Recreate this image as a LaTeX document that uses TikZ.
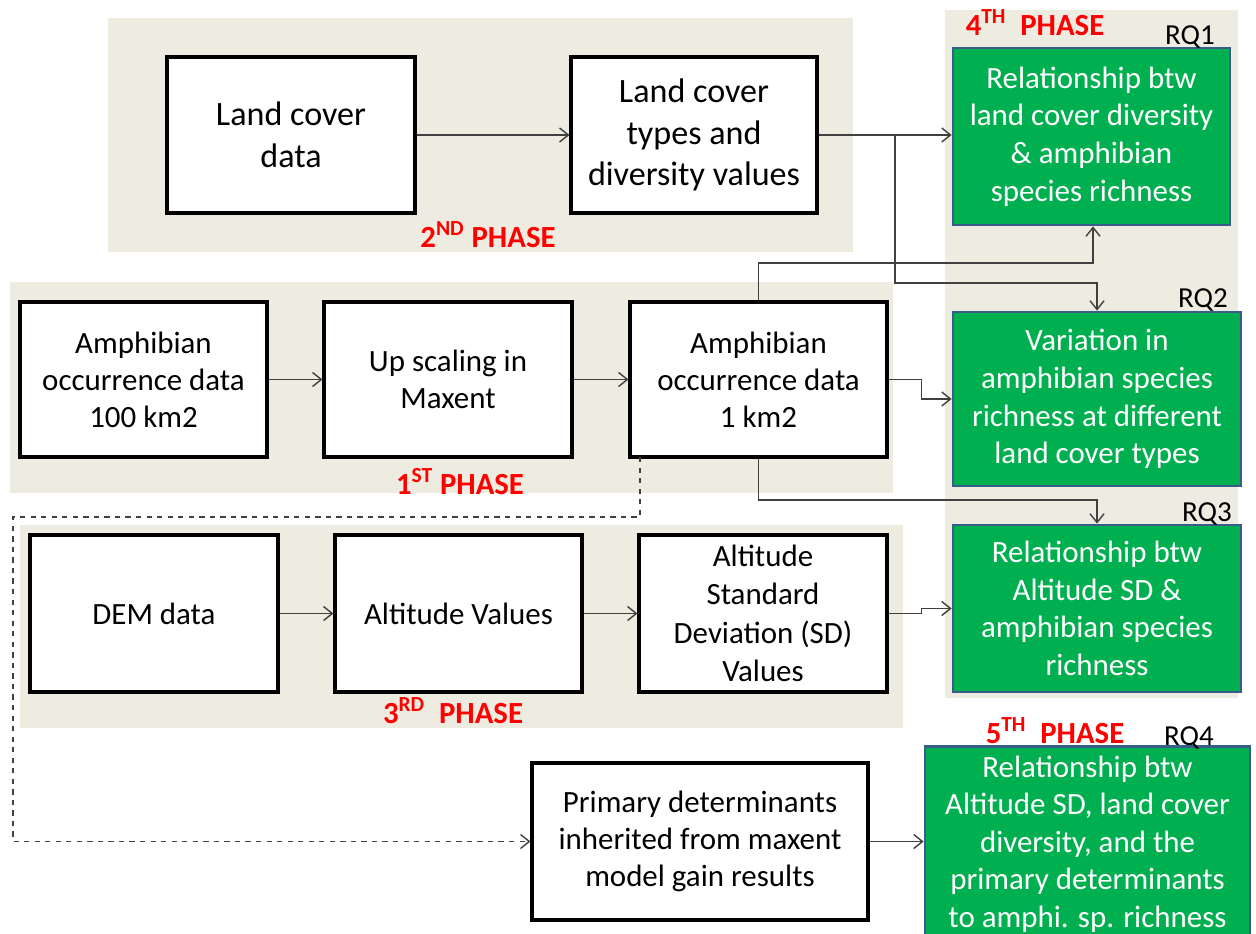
\documentclass[tikz,border=0pt]{standalone}
\usepackage{fontspec}
\setmainfont{Carlito}
\usepackage{xcolor}
\usepackage{tikz}
\usetikzlibrary{arrows.meta}
\definecolor{phasebg}{HTML}{EEECE1}
\definecolor{rqgreen}{HTML}{00B050}
\definecolor{rqborder}{HTML}{385D8A}
\definecolor{phasered}{HTML}{FF0000}
\newcommand{\boxtxt}{\fontsize{17.6}{21}\selectfont}
\newcommand{\bigtxt}{\fontsize{19.4}{23.6}\selectfont}
\newcommand{\rqtxt}{\fontsize{17.6}{21.4}\selectfont}
\newcommand{\phasetxt}{\fontsize{17.5}{21}\selectfont\bfseries}
\tikzset{
 databox/.style={draw=black, line width=1.8pt, fill=white, inner sep=0pt, align=center, font=\boxtxt},
 rqbox/.style={draw=rqborder, line width=1.6pt, fill=rqgreen, text=white, inner sep=0pt, align=center, font=\rqtxt},
 phaselabel/.style={text=phasered, inner sep=0pt, anchor=base, font=\phasetxt},
 rqlabel/.style={inner sep=0pt, anchor=base, font=\fontsize{16.5}{20}\selectfont},
 link/.style={draw=black!75, line width=0.8pt, ->, >={Straight Barb[length=5pt,width=8pt]}}
}

\begin{document}
\begin{tikzpicture}  [x=0.02cm, y=-0.02cm]
\useasboundingbox (0,0) rectangle (1256,933);
\fill[white] (0,0) rectangle (1256,933);
\fill[phasebg] (108,18) rectangle (853,252);
\fill[phasebg] (10,282) rectangle (893,493);
\fill[phasebg] (20,525) rectangle (903,728);
\fill[phasebg] (945,10) rectangle (1238,698);

\node[databox, font=\bigtxt, minimum width=4.96cm, minimum height=3.12cm] (lcdata) at (291,135) {Land cover\\data};
\node[databox, font=\bigtxt, minimum width=4.92cm, minimum height=3.12cm] (lctypes) at (694,135) {Land cover\\types and\\diversity values};
\node[databox, minimum width=4.94cm, minimum height=3.10cm] (amphhund) at (143.5,379.5) {Amphibian\\occurrence data\\100 km2};
\node[databox, minimum width=4.96cm, minimum height=3.10cm] (upscale) at (448,379.5) {Up scaling in\\Maxent};
\node[databox, minimum width=5.14cm, minimum height=3.10cm] (amphone) at (758.5,379.5) {Amphibian\\occurrence data\\1 km2};
\node[databox, minimum width=4.96cm, minimum height=3.14cm] (dem) at (154,613.5) {DEM data};
\node[databox, minimum width=4.94cm, minimum height=3.14cm] (altval) at (458.5,613.5) {Altitude Values};
\node[databox, font=\fontsize{17.6}{21.8}\selectfont, minimum width=4.96cm, minimum height=3.14cm] (altsd) at (763,613.5) {Altitude\\Standard\\Deviation (SD)\\Values};
\node[databox, minimum width=6.72cm, minimum height=3.14cm] (primary) at (700,841.5) {Primary determinants\\inherited from maxent\\model gain results};

\node[rqbox, minimum width=5.54cm, minimum height=3.54cm] (rqone) at (1091.5,136.5) {Relationship btw\\land cover diversity\\\& amphibian\\species richness};
\node[rqbox, minimum width=5.76cm, minimum height=3.48cm] (rqtwo) at (1097,399) {Variation in\\amphibian species\\richness at different\\land cover types};
\node[rqbox, minimum width=5.76cm, minimum height=3.34cm] (rqthree) at (1097,608.5) {Relationship btw\\Altitude SD \&\\amphibian species\\richness};
\node[rqbox, minimum width=6.5cm, minimum height=3.9cm] (rqfour) at (1087.5,844) {Relationship btw\\Altitude SD, land cover\\diversity, and the\\primary determinants\\to amphi. sp. richness};

\node[phaselabel] (phtwo) at (488,247) {2\textsuperscript{ND} PHASE};
\node[phaselabel] (phone) at (460,494) {1\textsuperscript{ST} PHASE};
\node[phaselabel] (phthree) at (453,723) {3\textsuperscript{RD}\ \ PHASE};
\node[phaselabel] (phfour) at (1035,35) {4\textsuperscript{TH}\ \ PHASE};
\node[phaselabel] (phfive) at (1055,743) {5\textsuperscript{TH}\ \ PHASE};
\node[rqlabel] (lblone) at (1190,44) {RQ1};
\node[rqlabel] (lbltwo) at (1203,307) {RQ2};
\node[rqlabel] (lblthree) at (1207,521) {RQ3};
\node[rqlabel] (lblfour) at (1189,745) {RQ4};

\coordinate (split) at (895,135);
\coordinate (kinkone) at (1093,263);
\coordinate (kinktwo) at (1097,283);
\coordinate (kinkthree) at (1097,500);
\coordinate (dashtop) at (640,457);
\coordinate (dashcorner) at (13,517);

\draw[link] (lcdata.east) -- (lctypes.west);
\draw[link] (lctypes.east) -- (lctypes.east -| rqone.west);
\draw[link] (split) |- (kinktwo) -- (kinktwo |- rqtwo.north);
\draw[link] (amphhund.east) -- (upscale.west);
\draw[link] (upscale.east) -- (amphone.west);
\draw[link] (amphone.north) |- (kinkone) -- (kinkone |- rqone.south);
\draw[link] (amphone.east) -- ++(33,0) |- (rqtwo.west);
\draw[link] (amphone.south) |- (kinkthree) -- (kinkthree |- rqthree.north);
\draw[link] (dem.east) -- (altval.west);
\draw[link] (altval.east) -- (altsd.west);
\draw[link] (altsd.east) -- ++(33,0) |- (rqthree.west);
\draw[link] (primary.east) -- (primary.east -| rqfour.west);
\draw[link, dashed] (dashtop) |- (dashcorner) |- (primary.west);
\end{tikzpicture}
\end{document}
